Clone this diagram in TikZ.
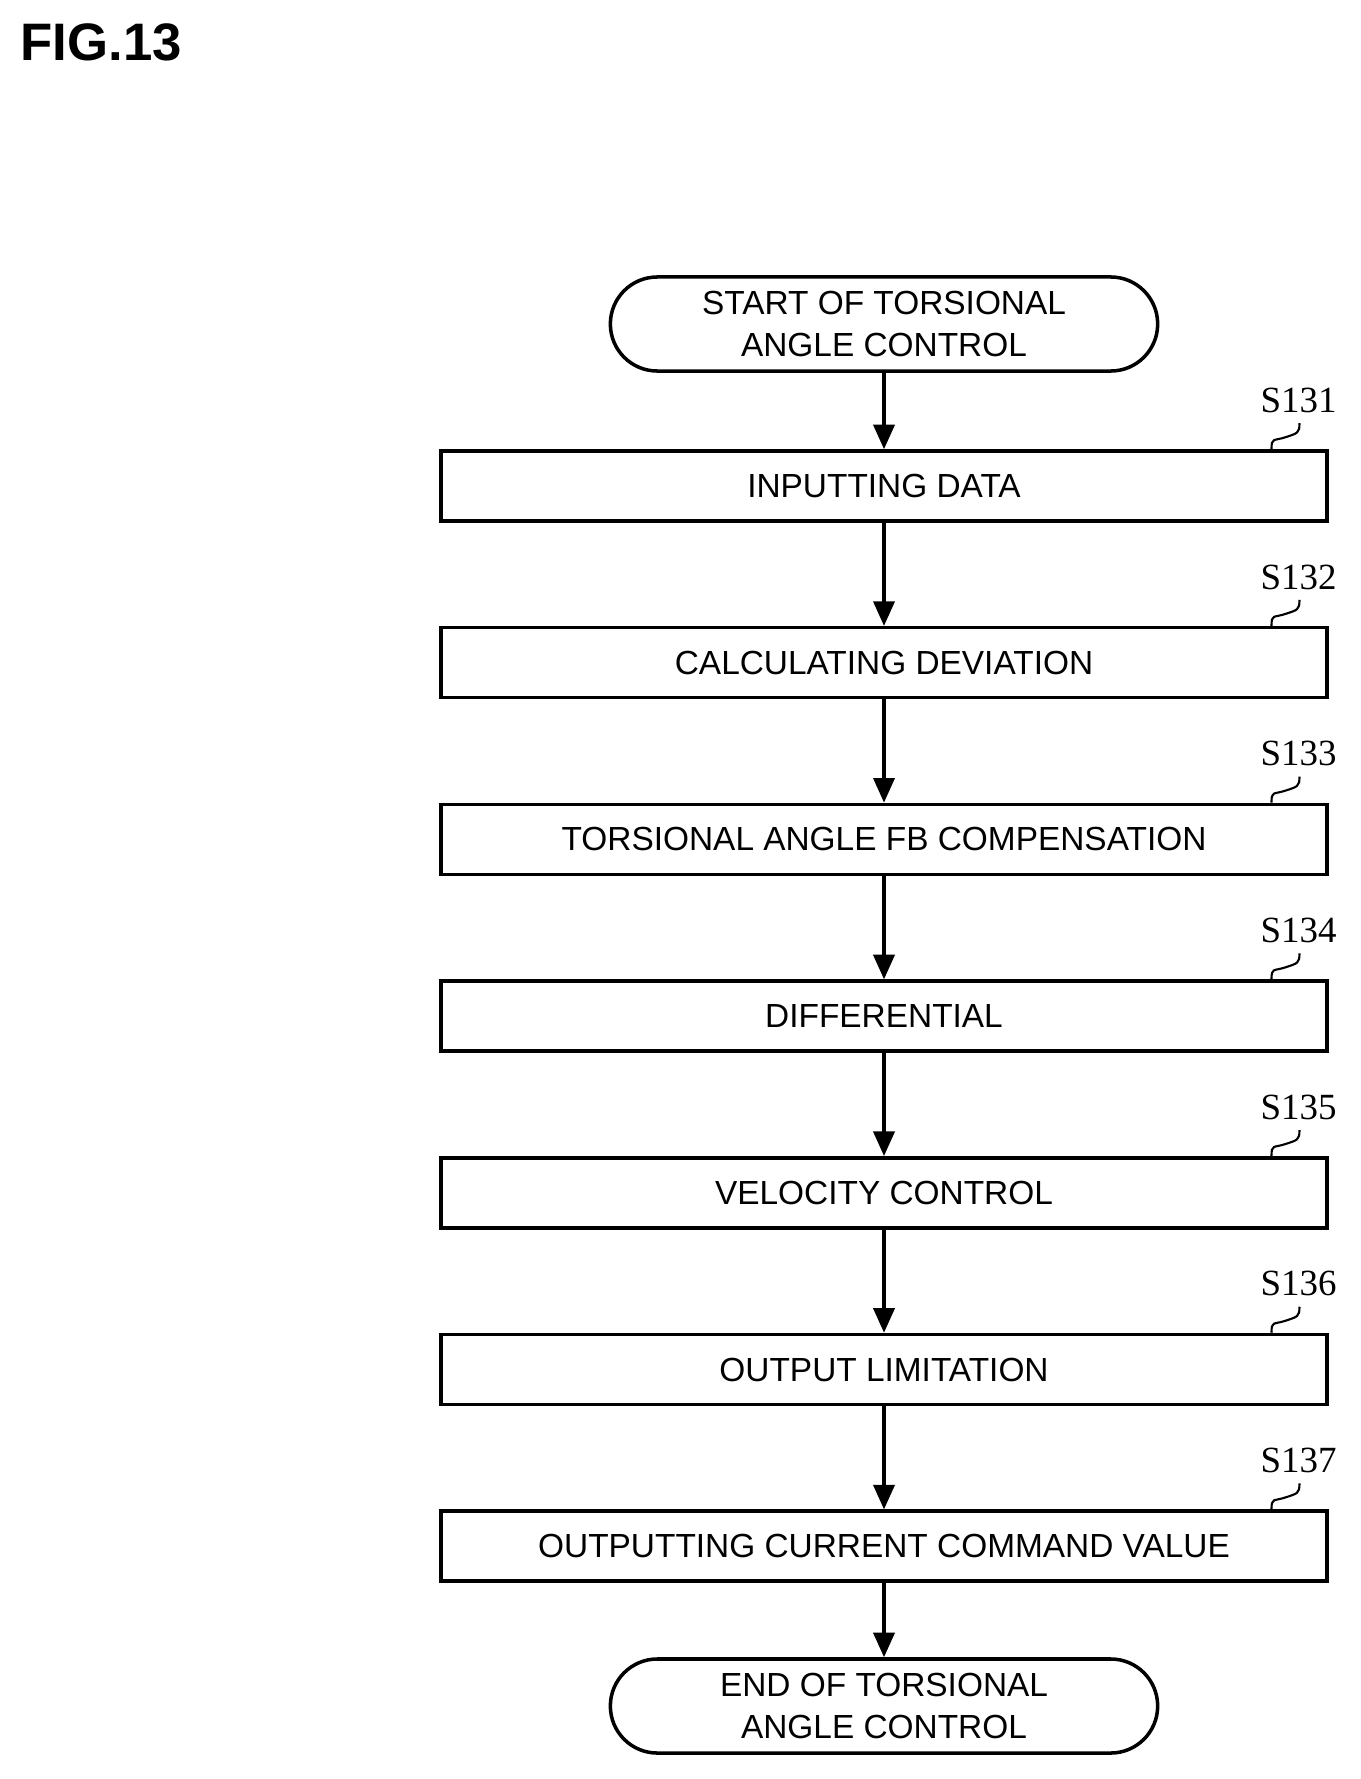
\documentclass[tikz,border=0pt]{standalone}
\usepackage{fontspec}
\setmainfont{Liberation Sans}
\newfontfamily\labelfont{Liberation Serif}
\usetikzlibrary{positioning,arrows.meta}

\tikzset{
  procbox/.style = {draw, line width=1pt, minimum width=8.85cm, minimum height=0.70cm,
                 font=\fontsize{9.5}{11}\selectfont},
  term/.style = {draw, line width=1pt, rounded corners=0.47cm, minimum width=5.47cm,
                 minimum height=0.94cm, align=center, font=\fontsize{9.5}{12}\selectfont},
  flow/.style = {line width=1pt, -{Triangle[length=7pt,width=6pt]}},
  tag/.style  = {font=\labelfont\fontsize{10.5}{12}\selectfont}
}

\begin{document}
\begin{tikzpicture}[x=0.01cm, y=-0.01cm]
  \useasboundingbox (0,0) rectangle (1361,1779);
  % figure title
  \node[anchor=north west, inner sep=0, font=\bfseries\fontsize{15}{17}\selectfont]
        (title) at (20,23) {FIG.13};
  % terminals
  \node[term] (start) at (884,324) {START OF TORSIONAL\\ANGLE CONTROL};
  \node[term] (end)   at (884,1706) {END OF TORSIONAL\\ANGLE CONTROL};
  % steps
  \foreach \n/\txt [count=\i from 0] in {
      131/INPUTTING DATA,
      132/CALCULATING DEVIATION,
      133/TORSIONAL ANGLE FB COMPENSATION,
      134/DIFFERENTIAL,
      135/VELOCITY CONTROL,
      136/OUTPUT LIMITATION,
      137/OUTPUTTING CURRENT COMMAND VALUE} {
    \node[procbox] (s\n) at (884,486+176.7*\i) {\txt};
    \draw[line width=0.6pt] ([xshift=-0.57cm]s\n.north east)
          .. controls +(0,-12) and +(-12,4) .. ++(14,-12)
          .. controls +(12,-4) and +(0,10) .. ++(14,-14);
    \node[tag, anchor=south] (t\n) at ([xshift=-0.30cm,yshift=0.24cm]s\n.north east) {S\n};
  }
  % connectors
  \draw[flow] (start) -- (s131);
  \draw[flow] (s131) -- (s132);
  \draw[flow] (s132) -- (s133);
  \draw[flow] (s133) -- (s134);
  \draw[flow] (s134) -- (s135);
  \draw[flow] (s135) -- (s136);
  \draw[flow] (s136) -- (s137);
  \draw[flow] (s137) -- (end);
\end{tikzpicture}
\end{document}
